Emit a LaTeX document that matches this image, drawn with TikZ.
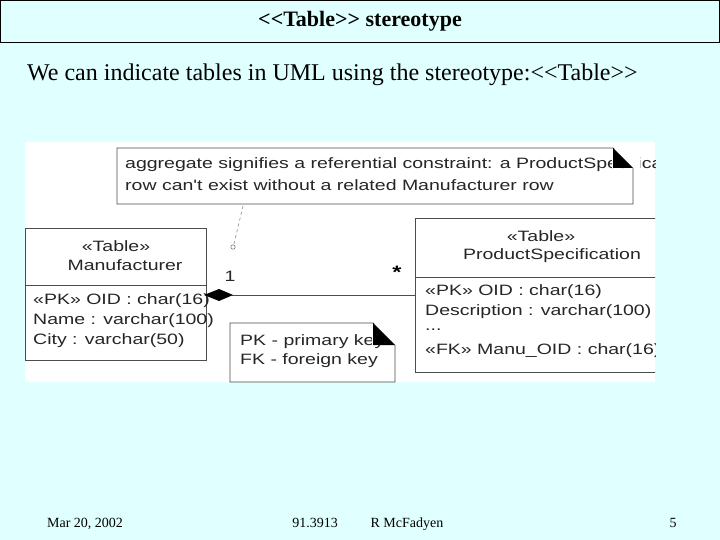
\documentclass[tikz,border=0pt]{standalone}
\usepackage{fontspec}
\setmainfont{Liberation Serif}[Ligatures=ResetAll]
\newfontfamily\dsans{Liberation Sans}[FakeStretch=1.3]
\definecolor{slidebg}{RGB}{224,255,255}
\begin{document}
\begin{tikzpicture}[x=1pt,y=-1pt,
  uml/.style={draw=black!70,line width=0.8pt},
  dtext/.style={font=\dsans\fontsize{15}{17}\selectfont,inner sep=0pt,anchor=west,text=black!85},
  foot/.style={font=\fontsize{14}{16}\selectfont,inner sep=0pt,anchor=base}]
\useasboundingbox (0,0) rectangle (720,540);
\fill[slidebg] (0,0) rectangle (720,540);
\draw[line width=0.8pt] (0.5,0.5) rectangle (719.5,42);
\node[font=\bfseries\fontsize{22}{24}\selectfont] (title) at (360,21) {\mbox{<}\mbox{<}Table\mbox{>}\mbox{>} stereotype};
\node[font=\fontsize{24}{26}\selectfont,anchor=west,inner sep=0pt] (sub) at (27,75) {We can indicate tables in UML using the stereotype:\mbox{<}\mbox{<}Table\mbox{>}\mbox{>}};
\fill[white] (25,142) rectangle (655,382);
\begin{scope}
\clip (25,142) rectangle (655,382);
% note 1
\draw[uml,fill=white] (117,148) -- (613,148) -- (633,168) -- (633,204) -- (117,204) -- cycle;
\node[dtext] (n1a) at (125,165) {aggregate signifies a referential constraint: a ProductSpecification};
\node[dtext] (n1b) at (125,185) {row can't exist without a related Manufacturer row};
\fill[white] (612,149) rectangle (640,168);
\fill[black] (613,148) -- (633,168) -- (613,168) -- cycle;
% Manufacturer
\draw[uml,fill=white] (25,228) rectangle (206,360);
\draw[uml] (25,285) -- (206,285);
\node[dtext,anchor=center] (m1) at (116,246) {«Table»};
\node[dtext,anchor=center] (m2) at (125,265) {Manufacturer};
\node[dtext] (m3) at (33,301) {«PK» OID : char(16)};
\node[dtext] (m4) at (33,321) {Name : varchar(100)};
\node[dtext] (m5) at (33,341) {City : varchar(50)};
% ProductSpec
\draw[uml,fill=white] (415,218) rectangle (660,372);
\draw[uml] (415,277) -- (660,277);
\node[dtext,anchor=center] (p1) at (541,236) {«Table»};
\node[dtext,anchor=center] (p2) at (552,256) {ProductSpecification};
\node[dtext] (p3) at (425,292) {«PK» OID : char(16)};
\node[dtext] (p4) at (425,312) {Description : varchar(100)};
\node[dtext] (p5) at (425,330) {...};
\node[dtext] (p6) at (425,351) {«FK» Manu\_OID : char(16)};
% association
\coordinate (d1) at (232,295);
\draw[uml] (d1) -- (415,295);
\fill[black] (204,295) -- (219,289) -- (233,295) -- (219,301) -- cycle;
\node[dtext,anchor=center] (one) at (230,276) {1};
\node[font=\dsans\bfseries\fontsize{18}{18}\selectfont,inner sep=0pt] (star) at (397,272) {*};
% dashed link
\coordinate (c1) at (243,206);
\draw[black!45,dashed,line width=0.6pt] (c1) -- (234,244);
\draw[black!60,line width=0.5pt] (233,247) circle (2.2);
% note 2
\draw[uml,fill=white] (230,323) -- (373,323) -- (395,345) -- (395,382) -- (230,382) -- cycle;
\node[dtext] (k1) at (240,342) {PK - primary key};
\node[dtext] (k2) at (240,361) {FK - foreign key};
\fill[white] (372,324) rectangle (400,345);
\fill[black] (373,323) -- (395,345) -- (373,345) -- cycle;
\end{scope}
\node[foot] (f1) at (85,527) {Mar 20, 2002};
\node[foot] (f2) at (315,527) {91.3913};
\node[foot] (f3) at (407,527) {R McFadyen};
\node[foot] (f4) at (673,527) {5};
\end{tikzpicture}
\end{document}
